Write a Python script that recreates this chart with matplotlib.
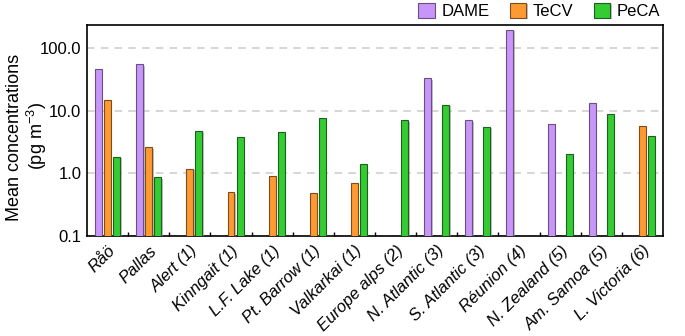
import numpy as np
import matplotlib
matplotlib.use("Agg")
import matplotlib.pyplot as plt
import matplotlib.patheffects as pe

plt.rcParams['font.family'] = ['Liberation Sans', 'DejaVu Sans']
plt.rcParams['mathtext.fontset'] = 'custom'
plt.rcParams['mathtext.rm'] = 'Liberation Sans'

sites = ['Råö', 'Pallas', 'Alert (1)', 'Kinngait (1)', 'L.F. Lake (1)',
         'Pt. Barrow (1)', 'Valkarkai (1)', 'Europe alps (2)', 'N. Atlantic (3)',
         'S. Atlantic (3)', 'Réunion (4)', 'N. Zealand (5)', 'Am. Samoa (5)',
         'L. Victoria (6)']

# nan = no data for that site
dame = [47, 55, np.nan, np.nan, np.nan, np.nan, np.nan, np.nan, 32.7, 7.0, 194, 6.2, 13.2, np.nan]
tecv = [14.6, 2.6, 1.19, 0.50, 0.91, 0.485, 0.70, np.nan, np.nan, np.nan, np.nan, np.nan, np.nan, 5.75]
peca = [1.84, 0.86, 4.8, 3.84, 4.6, 7.7, 1.39, 7.0, 12.5, 5.5, np.nan, 2.07, 9.0, 4.0]

series = [('DAME', dame, '#c896f8', '#6a4f85'),
          ('TeCV', tecv, '#ff9a33', '#7a4c1e'),
          ('PeCA', peca, '#33cc33', '#1e5e1e')]

fig = plt.figure(figsize=(6.85, 3.36), dpi=100)
ax = fig.add_axes([87/685, 1-236/336, 576/685, 211/336])

x = np.arange(len(sites))
w = 0.17
off = 0.22
shadow = [pe.SimplePatchShadow(offset=(1, -1), shadow_rgbFace='#999999', alpha=0.6), pe.Normal()]
for i, (name, vals, col, ec) in enumerate(series):
    v = np.array(vals, dtype=float)
    bars = ax.bar(x + (i - 1) * off, v, width=w, color=col,
                  edgecolor=ec, linewidth=0.8, label=name, zorder=3)
    for b in bars:
        b.set_path_effects(shadow)

ax.set_yscale('log')
ax.set_ylim(0.1, 233)
ax.set_xlim(-0.5, len(sites) - 0.5)
ax.set_yticks([0.1, 1, 10, 100])
ax.set_yticklabels(['0.1', '1.0', '10.0', '100.0'], fontsize=12)
ax.yaxis.set_minor_locator(matplotlib.ticker.NullLocator())
ax.tick_params(axis='y', length=0, pad=4)
ax.grid(axis='y', which='major', color='#cccccc', linestyle=(0, (5, 4)), linewidth=1.1, zorder=0)

ax.set_xticks(x)
ax.set_xticklabels(sites, rotation=45, ha='right', rotation_mode='anchor',
                   fontsize=12, style='italic')
ax.tick_params(axis='x', which='major', length=0, pad=5)
ax.set_xticks(x[:-1] + 0.5, minor=True)
ax.tick_params(axis='x', which='minor', direction='in', length=3, width=1)

for s in ax.spines.values():
    s.set_linewidth(1.2)

# two-line y label
fig.text(15/685, 1-137/336, 'Mean concentrations', rotation=90, fontsize=13,
         ha='center', va='center')
fig.text(37/685, 1-136/336, '(pg m$^{-3}$)', rotation=90, fontsize=13,
         ha='center', va='center')

ax.legend(loc='lower right', bbox_to_anchor=(1.01, 0.99), ncol=3, frameon=False,
          fontsize=12, handlelength=1.0, handleheight=1.0, handletextpad=0.4,
          columnspacing=1.2, borderaxespad=0.1)

fig.savefig('out.png', dpi=100)
